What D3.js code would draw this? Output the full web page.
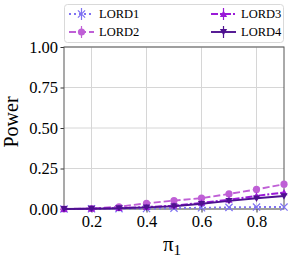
<!DOCTYPE html>
<html><head><meta charset="utf-8">
<script src="https://cdn.jsdelivr.net/npm/d3@7"></script>
<style>body{margin:0;background:#fff}svg{display:block}</style>
</head><body>
<svg id="c" width="291" height="260"></svg>
<script>
const xValues = [0.1,0.2,0.3,0.4,0.5,0.6,0.7,0.8,0.9];
const seriesNames = ["LORD1","LORD2","LORD3","LORD4"];
const lord1 = [0.000,0.001,0.002,0.003,0.005,0.008,0.010,0.012,0.012];
const lord2 = [0.000,0.003,0.014,0.035,0.052,0.067,0.093,0.121,0.153];
const lord3 = [0.000,0.002,0.006,0.012,0.021,0.038,0.057,0.081,0.102];
const lord4 = [0.000,0.002,0.005,0.010,0.017,0.032,0.050,0.066,0.080];
const errs = [0.004,0.006,0.006,0.006];
const xTicks = [0.2,0.4,0.6,0.8];
const yTicks = [0,0.25,0.5,0.75,1.0];
const colors = ["#7f72f2","#bf5fd6","#9a1ad8","#4e1190"];
const dashes = ["2,3","7,3","7,2,2,2",null];
const markers = ["x","o","^","v"];
const allSeries = [lord1,lord2,lord3,lord4];

const svg = d3.select("#c");
const L=64,R=284,T=47,B=209;
const x = d3.scaleLinear().domain([0.1,0.9]).range([L,R]);
const y = d3.scaleLinear().domain([0,1]).range([B,T]);
const font = "'Liberation Serif','Times New Roman',serif";

// grid
svg.append("g").selectAll("line").data(xTicks).join("line")
  .attr("x1",d=>x(d)).attr("x2",d=>x(d)).attr("y1",T).attr("y2",B)
  .attr("stroke","#d6d6d6").attr("stroke-width",1);
svg.append("g").selectAll("line").data(yTicks).join("line")
  .attr("x1",L).attr("x2",R).attr("y1",d=>y(d)).attr("y2",d=>y(d))
  .attr("stroke","#d6d6d6").attr("stroke-width",1);

// axes
const xa = svg.append("g").attr("transform",`translate(0,${B})`)
  .call(d3.axisBottom(x).tickValues(xTicks).tickFormat(d3.format(".1f")).tickSize(3.5).tickPadding(3));
const ya = svg.append("g").attr("transform",`translate(${L},0)`)
  .call(d3.axisLeft(y).tickValues(yTicks).tickFormat(d3.format(".2f")).tickSize(3.5).tickPadding(2.5));
[xa,ya].forEach(a=>{
  a.select(".domain").remove();
  a.selectAll("line").attr("stroke","#333");
  a.selectAll("text").attr("font-family",font).attr("font-size",16.5).attr("fill","#000");
});
svg.append("rect").attr("x",L).attr("y",T).attr("width",R-L).attr("height",B-T)
  .attr("fill","none").attr("stroke","#555").attr("stroke-width",1);

function drawMarker(g,type,cx,cy,color,s){
  if(type==="o"){
    g.append("circle").attr("cx",cx).attr("cy",cy).attr("r",s).attr("fill",color);
  } else if(type==="x"){
    g.append("path").attr("d",`M${cx-s},${cy-s}L${cx+s},${cy+s}M${cx-s},${cy+s}L${cx+s},${cy-s}`)
      .attr("stroke",color).attr("stroke-width",1.2).attr("fill","none");
  } else if(type==="^"){
    g.append("path").attr("d",`M${cx},${cy-s}L${cx+s},${cy+s*0.8}L${cx-s},${cy+s*0.8}Z`).attr("fill",color);
  } else {
    g.append("path").attr("d",`M${cx},${cy+s}L${cx+s},${cy-s*0.8}L${cx-s},${cy-s*0.8}Z`).attr("fill",color);
  }
}

const plot = svg.append("g");
allSeries.forEach((vals,i)=>{
  const line = d3.line().x((d,j)=>x(xValues[j])).y(d=>y(d));
  const p = plot.append("path").datum(vals).attr("d",line)
    .attr("fill","none").attr("stroke",colors[i]).attr("stroke-width",1.9);
  if(dashes[i]) p.attr("stroke-dasharray",dashes[i]);
  vals.forEach((v,j)=>{
    plot.append("line").attr("x1",x(xValues[j])).attr("x2",x(xValues[j]))
      .attr("y1",y(Math.max(0,v-errs[i]))).attr("y2",y(v+errs[i]))
      .attr("stroke",colors[i]).attr("stroke-width",1.2);
    drawMarker(plot,markers[i],x(xValues[j]),y(v),colors[i],3.6);
  });
});

// labels
svg.append("text").attr("transform","translate(18,122) rotate(-90)")
  .attr("text-anchor","middle").attr("font-family",font).attr("font-size",20).text("Power");
const xl = svg.append("text").attr("x",172).attr("y",251).attr("text-anchor","middle")
  .attr("font-family",font).attr("font-size",21);
xl.append("tspan").text("π");
xl.append("tspan").attr("font-size",15).attr("dy",4).text("1");

// legend
const lg = svg.append("g");
lg.append("rect").attr("x",64.5).attr("y",4.5).attr("width",219).attr("height",38).attr("rx",3)
  .attr("fill","#fff").attr("fill-opacity",0.85).attr("stroke","#d9d9d9");
const pos = [[69,14],[69,32],[211,14],[211,32]];
seriesNames.forEach((n,i)=>{
  const [lx,ly]=pos[i];
  const h = lg.append("line").attr("x1",lx).attr("x2",lx+25).attr("y1",ly).attr("y2",ly)
    .attr("stroke",colors[i]).attr("stroke-width",1.9);
  if(dashes[i]) h.attr("stroke-dasharray",dashes[i]);
  lg.append("line").attr("x1",lx+12.5).attr("x2",lx+12.5).attr("y1",ly-6).attr("y2",ly+6)
    .attr("stroke",colors[i]).attr("stroke-width",1.2);
  drawMarker(lg,markers[i],lx+12.5,ly,colors[i],3.6);
  lg.append("text").attr("x",lx+30).attr("y",ly).attr("dy","0.35em")
    .attr("font-family",font).attr("font-size",12.5).text(n);
});
</script>
</body></html>
